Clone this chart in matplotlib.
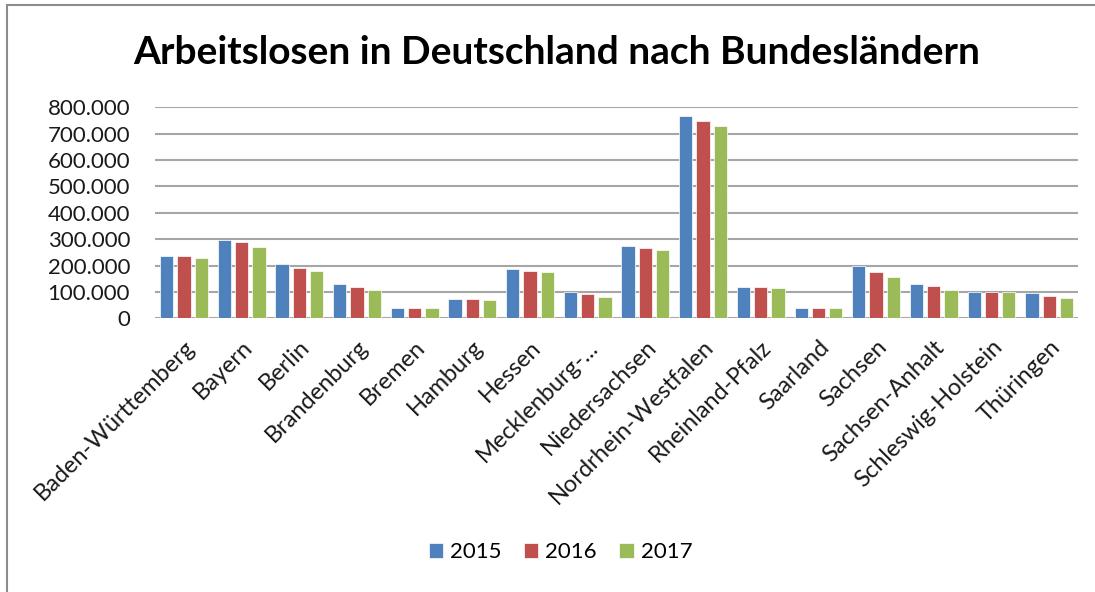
import matplotlib
matplotlib.use('Agg')
import matplotlib.pyplot as plt
import numpy as np
from matplotlib.ticker import FuncFormatter
from matplotlib.patches import Rectangle

# Arbeitslose nach Bundesland
laender = ['Baden-Württemberg', 'Bayern', 'Berlin', 'Brandenburg', 'Bremen',
           'Hamburg', 'Hessen', 'Mecklenburg-...', 'Niedersachsen',
           'Nordrhein-Westfalen', 'Rheinland-Pfalz', 'Saarland', 'Sachsen',
           'Sachsen-Anhalt', 'Schleswig-Holstein', 'Thüringen']
jahre = ['2015', '2016', '2017']
werte2015 = [238000, 297000, 205000, 129000, 38000, 72000, 186000, 99000,
             276000, 766000, 119000, 38000, 197000, 129000, 99000, 97000]
werte2016 = [238000, 288000, 190000, 119000, 38000, 72000, 181000, 91000,
             265000, 747000, 119000, 38000, 176000, 124000, 99000, 86000]
werte2017 = [228000, 270000, 181000, 106000, 38000, 70000, 176000, 81000,
             260000, 728000, 114000, 38000, 157000, 109000, 98000, 76000]
farben = ['#4F81BD', '#C0504D', '#9BBB59']

plt.rcParams['font.family'] = ['Lato', 'DejaVu Sans']

fig = plt.figure(figsize=(10.95, 5.92), dpi=100)
ax = fig.add_axes([0.1416, 0.4623, 0.8429, 0.3564])

x = np.arange(len(laender))
breite = 0.23
for i, (werte, jahr) in enumerate(zip([werte2015, werte2016, werte2017], jahre)):
    ax.bar(x + (i - 1) * 0.3, werte, breite, color=farben[i], label=jahr,
           zorder=3, edgecolor='white', linewidth=0.5)

ax.set_xlim(-0.5, len(laender) - 0.5)
ax.set_ylim(0, 800000)
ax.set_yticks(np.arange(0, 800001, 100000))
ax.yaxis.set_major_formatter(FuncFormatter(lambda v, p: '{:,.0f}'.format(v).replace(',', '.')))
ax.grid(axis='y', color='#a6a6a6', linewidth=1.5, zorder=0)
for s in ax.spines.values():
    s.set_visible(False)
ax.tick_params(axis='both', length=0, labelsize=16, colors='#1a1a1a')
ax.tick_params(axis='y', pad=18)
ax.set_xticks(x)
ax.set_xticklabels(laender, rotation=45, ha='right', rotation_mode='anchor',
                   fontsize=17)
ax.tick_params(axis='x', pad=13)

fig.text(0.508, 0.912, 'Arbeitslosen in Deutschland nach Bundesländern',
         ha='center', va='center', fontsize=28, fontweight='bold', color='black')

ax.legend(loc='center', bbox_to_anchor=(0.512, 0.0675), bbox_transform=fig.transFigure,
          ncol=3, frameon=False, fontsize=16, handlelength=0.64, handleheight=0.64,
          handletextpad=0.32, columnspacing=1.0)

# grauer Rahmen des Diagrammbereichs
fig.patches.append(Rectangle((7 / 1095, -0.1), 1.2, 1.0 - 5 / 592 + 0.1,
                             transform=fig.transFigure, fill=False,
                             edgecolor='#8c8c8c', linewidth=1.5))

fig.savefig('out.png', dpi=100)
